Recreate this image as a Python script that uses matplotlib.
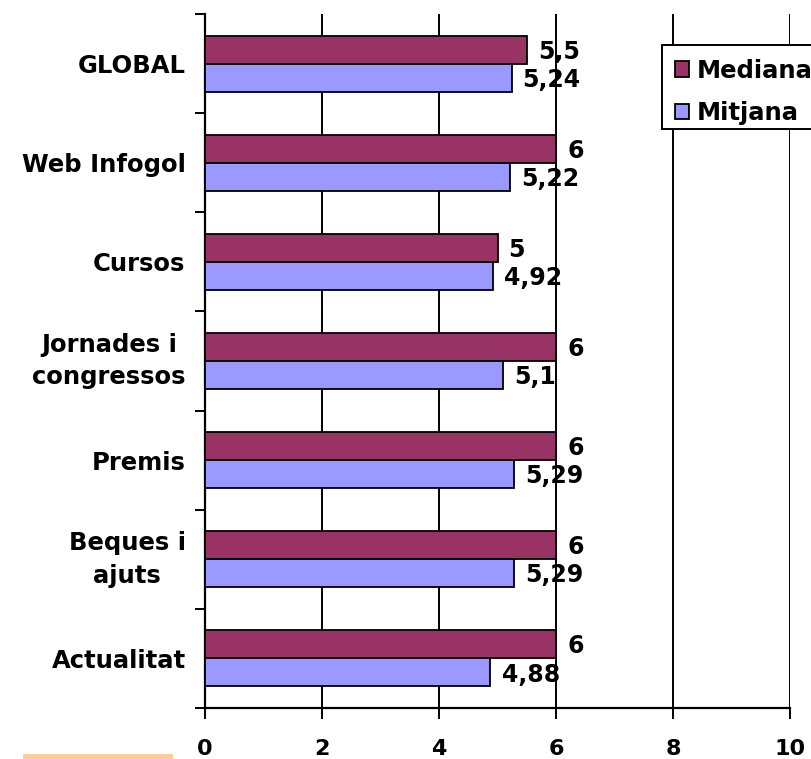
import matplotlib
matplotlib.use("Agg")
import matplotlib.pyplot as plt
from matplotlib.lines import Line2D
from matplotlib.patches import Rectangle
import numpy as np

categories = ["GLOBAL", "Web Infogol", "Cursos", "Jornades i\ncongressos",
              "Premis", "Beques i\najuts", "Actualitat"]
mediana = [5.5, 6, 5, 6, 6, 6, 6]
mitjana = [5.24, 5.22, 4.92, 5.1, 5.29, 5.29, 4.88]
xticks = [0, 2, 4, 6, 8, 10]

plt.rcParams['font.family'] = ['DejaVu Sans']
plt.rcParams['font.weight'] = 'bold'

fig = plt.figure(figsize=(8.12, 7.59), dpi=100)
ax = fig.add_axes([205/812, 1-708/759, (790-205)/812, (708-14)/759])

y = np.arange(len(categories))
h = 0.283
b1 = ax.barh(y - h/2, mediana, height=h, color="#993366", edgecolor="black",
             linewidth=1.3, label="Mediana", zorder=3)
b2 = ax.barh(y + h/2, mitjana, height=h, color="#9999FF", edgecolor="black",
             linewidth=1.3, label="Mitjana", zorder=3)

# value labels, comma decimals
for bars, vals in [(b1, mediana), (b2, mitjana)]:
    for rect, v in zip(bars, vals):
        txt = f"{v:g}".replace(".", ",")
        ax.annotate(txt, (v, rect.get_y() + rect.get_height()/2),
                    xytext=(8, -1.5), textcoords="offset points",
                    ha="left", va="center", fontsize=17, fontweight="bold",
                    zorder=4)

ax.set_xlim(0, 10)
ax.set_ylim(len(categories) - 0.5, -0.5)
ax.set_xticks(xticks)
ax.set_xticklabels([str(t) for t in xticks], fontsize=16, fontweight="bold")
ax.xaxis.grid(True, color="black", linewidth=1.4, zorder=0)
ax.tick_params(axis="x", direction="out", length=8, width=1.4, pad=14)

ax.set_yticks(y)
ax.set_yticklabels(categories, fontsize=17.5, fontweight="bold",
                   multialignment="center", linespacing=1.45)
for t in ax.get_yticklabels():
    if "\n" in t.get_text():
        t.set_va("center")
ax.set_yticks(np.arange(len(categories) + 1) - 0.5, minor=True)
ax.tick_params(axis="y", which="major", length=0, pad=14)
ax.tick_params(axis="y", which="minor", direction="out", length=7, width=1.4)

for s in ["top", "right"]:
    ax.spines[s].set_visible(False)
for s in ["left", "bottom"]:
    ax.spines[s].set_linewidth(1.6)

# legend box runs off the right edge of the picture
fig.add_artist(Rectangle((662/812, 1-129/759), 250/812, 84/759,
                         transform=fig.transFigure, facecolor="white",
                         edgecolor="black", linewidth=1.4, zorder=4))
leg = fig.legend(handles=[b1, b2], loc="upper left",
                 bbox_to_anchor=(662/812, 1-46/759),
                 prop={"weight": "bold", "size": 17.5}, frameon=False,
                 handlelength=0.58, handleheight=0.58, handletextpad=0.35,
                 borderpad=0.52, labelspacing=0.75, borderaxespad=0)
leg.set_zorder(5)

# orange line bottom-left
fig.add_artist(Line2D([25/812, 170/812], [1-756/759, 1-756/759],
                      color="#FFCC99", linewidth=3.5))

fig.savefig("out.png", dpi=100)
